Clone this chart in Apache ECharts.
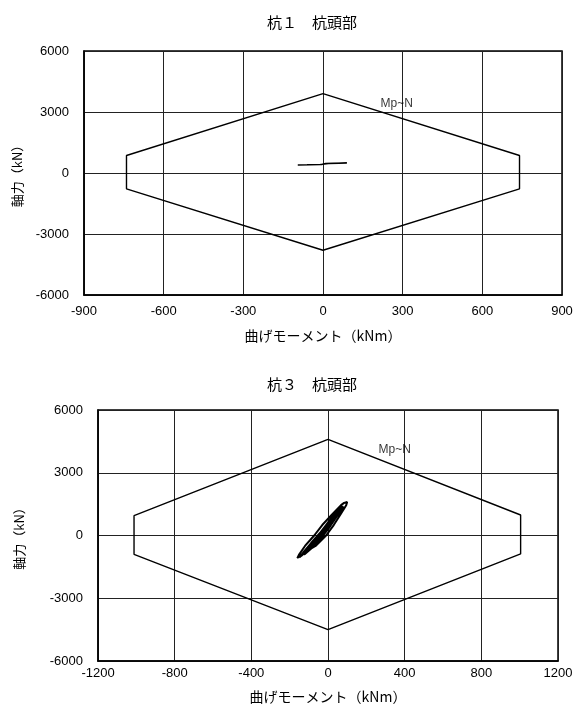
<!DOCTYPE html>
<html>
<head>
<meta charset="utf-8">
<script src="https://cdn.jsdelivr.net/npm/echarts@6/dist/echarts.min.js"></script>
<style>
html, body { margin: 0; padding: 0; background: #fff; }
#chart { width: 579px; height: 713px; }
</style>
</head>
<body>
<div id="chart"></div>
<script>
// Titles and axis names
const titles = ['杭１　杭頭部', '杭３　杭頭部'];
const xName = '曲げモーメント（kNm）';
const yName = '軸力（kN）';
const envelopeLabel = 'Mp~N';

// Axis ranges (kNm / kN)
const xRange1 = [-900, 900, 300];
const xRange3 = [-1200, 1200, 400];
const yRange = [-6000, 6000, 3000];

// Pile 1: Mp-N interaction polygon
const env1M = [0, 740, 740, 0, -740, -740, 0];
const env1N = [3900, 860, -780, -3800, -780, 860, 3900];
// Pile 1: pile-head response trace
const resp1M = [-95, -60, -30, -5, 10, 40, 90, 60, 20, -10, -50, -95];
const resp1N = [400, 405, 412, 420, 470, 482, 490, 482, 462, 418, 402, 396];
// Pile 1: label anchor for the polygon
const lab1 = [215, 3420];

// Pile 3: Mp-N interaction polygon
const env3M = [0, 1005, 1005, 0, -1012, -1012, 0];
const env3N = [4600, 980, -880, -4500, -900, 946, 4600];
// Pile 3: pile-head response trace (hysteresis loops)
const resp3M = [
  -150, -120, -65, -10, 30, 65, 95, 100, 92, 84, 88, 68, 20, -30, -72, -120, -150, -160, -150,
  -130, -80, -30, 10, 50, 75, 60, 30, -10, -50, -100, -135,
  -100, -55, -15, 30, 45, 5, -40, -85, -105,
  -70, -30, 10, 25, -15, -60, -75,
  -140, -95, -45, -5, 35, 62, 80, 68, 40, 0, -42, -88, -128, -140,
  -115, -65, -20, 20, 52, 38, 0, -45, -92, -118,
  -85, -40, 0, 35, 15, -25, -70, -88,
  -125, -75, -35, 5, 42, 70, 55, 18, -22, -62, -108, -125
];
const resp3N = [
  -1050, -800, -500, 0, 500, 1000, 1450, 1600, 1630, 1560, 1500, 1450, 1000, 500, 0, -500, -900, -1080, -1050,
  -850, -450, 0, 500, 1000, 1300, 1280, 1000, 500, 0, -500, -880,
  -600, -150, 300, 800, 900, 400, -50, -450, -620,
  -300, 150, 600, 650, 200, -250, -330,
  -980, -620, -180, 280, 780, 1150, 1380, 1360, 1080, 620, 120, -360, -800, -980,
  -760, -320, 120, 620, 1020, 1000, 560, 60, -420, -770,
  -480, -30, 420, 840, 640, 180, -280, -490,
  -920, -520, -120, 360, 860, 1220, 1200, 760, 260, -220, -680, -920
];
// Pile 3: label anchor for the polygon
const lab3 = [261, 4120];

const zip = (a, b) => a.map((v, i) => [v, b[i]]);

const fontLatin = '"Liberation Sans", Arial, "Noto Sans CJK JP", sans-serif';
const fontCJK = '"Noto Sans CJK JP", "Liberation Sans", sans-serif';
const plain = v => String(v);

function xAxisFor(gridIndex, range, gap, margin) {
  return {
    type: 'value', gridIndex,
    min: range[0], max: range[1], interval: range[2],
    name: xName, nameLocation: 'middle', nameGap: gap,
    nameTextStyle: { color: '#000', fontSize: 14, fontFamily: fontCJK },
    axisLine: { show: true, onZero: false, lineStyle: { color: '#000', width: 1.5 } },
    axisTick: { show: false },
    axisLabel: { color: '#000', fontSize: 13, fontFamily: fontLatin, margin, formatter: plain },
    splitLine: { show: true, lineStyle: { color: '#222', width: 1 } }
  };
}
function yAxisFor(gridIndex, gap, margin) {
  return {
    type: 'value', gridIndex,
    min: yRange[0], max: yRange[1], interval: yRange[2],
    name: yName, nameLocation: 'middle', nameGap: gap, nameRotate: 90,
    nameTextStyle: { color: '#000', fontSize: 13, fontFamily: fontCJK },
    axisLine: { show: true, onZero: false, lineStyle: { color: '#000', width: 1.5 } },
    axisTick: { show: false },
    axisLabel: { color: '#000', fontSize: 13, fontFamily: fontLatin, margin, formatter: plain },
    splitLine: { show: true, lineStyle: { color: '#222', width: 1 } }
  };
}
function lineSeries(idx, data, width) {
  return {
    type: 'line', xAxisIndex: idx, yAxisIndex: idx,
    data, showSymbol: false, symbol: 'none', silent: true,
    lineStyle: { color: '#000', width },
    animation: false
  };
}
function labelSeries(idx, pos) {
  return {
    type: 'scatter', xAxisIndex: idx, yAxisIndex: idx,
    data: [pos], symbolSize: 1, itemStyle: { color: 'rgba(0,0,0,0)' },
    label: {
      show: true, formatter: envelopeLabel, position: 'right', distance: 0,
      color: '#000', fontSize: 12, fontFamily: fontLatin
    },
    silent: true, animation: false
  };
}

const chart = echarts.init(document.getElementById('chart'), null, { renderer: 'canvas' });
chart.setOption({
  backgroundColor: '#fff',
  animation: false,
  title: [
    { text: titles[0], left: 307, top: 10, textAlign: 'center',
      textStyle: { color: '#000', fontSize: 15, fontWeight: 'normal', fontFamily: fontCJK } },
    { text: titles[1], left: 307, top: 372, textAlign: 'center',
      textStyle: { color: '#000', fontSize: 15, fontWeight: 'normal', fontFamily: fontCJK } }
  ],
  grid: [
    { left: 84, top: 51, width: 478, height: 244, show: true, borderColor: '#000', borderWidth: 1.5, backgroundColor: '#fff' },
    { left: 98, top: 410, width: 460, height: 251, show: true, borderColor: '#000', borderWidth: 1.5, backgroundColor: '#fff' }
  ],
  xAxis: [xAxisFor(0, xRange1, 34, 10), xAxisFor(1, xRange3, 29, 6)],
  yAxis: [yAxisFor(0, 60, 15), yAxisFor(1, 72, 15)],
  series: [
    lineSeries(0, zip(env1M, env1N), 1.4),
    lineSeries(0, zip(resp1M, resp1N), 1.4),
    labelSeries(0, lab1),
    lineSeries(1, zip(env3M, env3N), 1.4),
    lineSeries(1, zip(resp3M, resp3N), 2),
    labelSeries(1, lab3)
  ]
});
</script>
</body>
</html>
